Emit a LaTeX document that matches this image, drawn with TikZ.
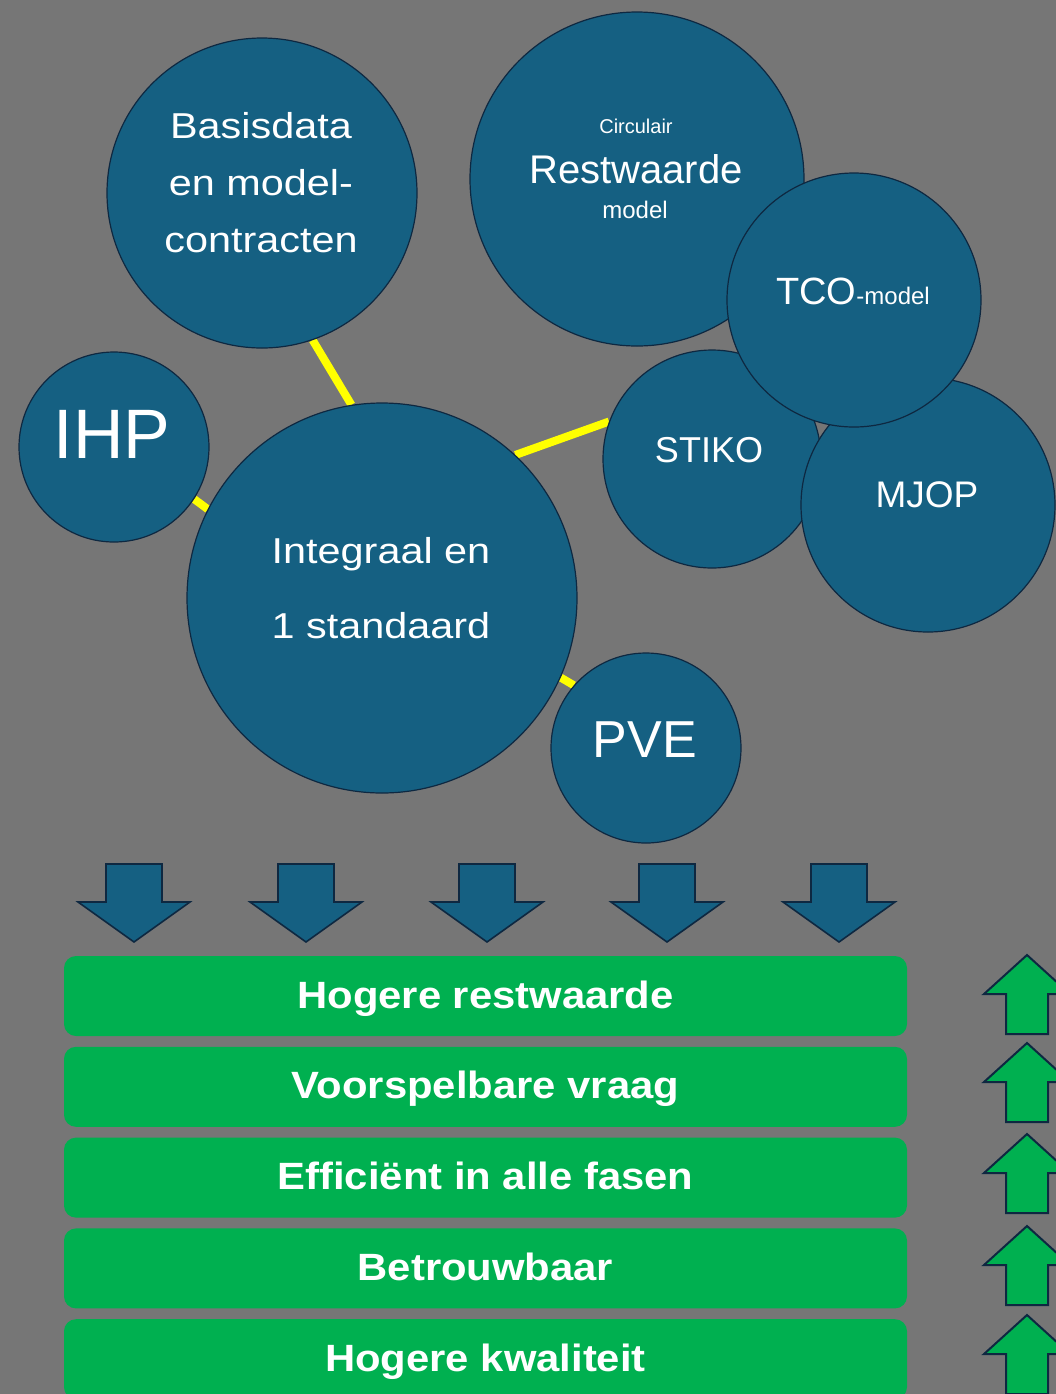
\documentclass[tikz,border=0pt]{standalone}
\usepackage{fontspec}
\setmainfont{Liberation Sans}
\newfontfamily\widefont[FakeStretch=1.15]{Liberation Sans}
\newfontfamily\boxfont[FakeStretch=1.1]{Liberation Sans}
\usetikzlibrary{positioning}

\definecolor{bggray}{HTML}{767676}
\definecolor{bubblefill}{HTML}{156082}
\definecolor{bubbleline}{HTML}{0E2841}
\definecolor{boxgreen}{HTML}{00B050}
\definecolor{linkyellow}{HTML}{FFFF00}

\pgfdeclarelayer{linklayer}
\pgfsetlayers{linklayer,main}

\begin{document}
\begin{tikzpicture}[
  x=0.5pt, y=-0.5pt,
  bubble/.style={
    circle,
    draw=bubbleline,
    line width=0.6pt,
    fill=bubblefill,
    inner sep=0pt},
  bubbletext/.style={
    text=white,
    inner sep=0pt,
    anchor=base},
  link/.style={draw=linkyellow, line width=4pt},
  resultbox/.style={
    fill=boxgreen,
    rounded corners=6pt,
    minimum width=421.5pt,
    minimum height=40pt,
    inner sep=0pt,
    text=white,
    text height=12pt,
    text depth=0pt,
    font=\boxfont\bfseries\fontsize{19}{23}\selectfont},
  downarrow/.style={fill=bubblefill, draw=bubbleline, line width=0.8pt},
  uparrow/.style={fill=boxgreen, draw=bubbleline, line width=1pt}
  ]
    \begin{pgfonlayer}{linklayer}
      \path[use as bounding box, fill=bggray] (0,0) rectangle (1056,1394);
    \end{pgfonlayer}
    \clip (0,0) rectangle (1056,1394);

    % bubbles
    \node[bubble, minimum size=155pt] (basis) at (262,193) {};
    \node[bubble, minimum size=167pt] (rest) at (637,179) {};
    \node[bubble, minimum size=109pt] (stiko) at (712,459) {};
    \node[bubble, minimum size=127pt] (mjop) at (928,505) {};
    \node[bubble, minimum size=127pt] (tco) at (854,300) {};
    \node[bubble, minimum size=95pt] (ihp) at (114,447) {};
    \node[bubble, minimum size=195pt] (integ) at (382,598) {};
    \node[bubble, minimum size=95pt] (pve) at (646,748) {};

    \begin{pgfonlayer}{linklayer}
      \draw[link] (basis.-71) -- (integ.99);
      \draw[link] (ihp.-33) -- (integ.153);
      \draw[link] (integ.47) -- (stiko.160);
      \draw[link] (integ.-24) -- (pve.139);
    \end{pgfonlayer}

    % texts in the bubbles
    \foreach \t/\y [count=\i] in {Basisdata/138, en model-/195, contracten/252}
      \node[bubbletext, font=\widefont\fontsize{18}{22}\selectfont] (basis-\i) at (261,\y) {\t};
    \node[bubbletext, font=\fontsize{10}{12}\selectfont] (rest-1) at (636,133) {Circulair};
    \node[bubbletext, font=\fontsize{20}{24}\selectfont] (rest-2) at (636,183) {Restwaarde};
    \node[bubbletext, font=\fontsize{12}{14}\selectfont] (rest-3) at (635,218) {model};
    \node[bubbletext, font=\fontsize{19}{23}\selectfont] (tco-t) at (853,304) {TCO{\fontsize{12}{14}\selectfont -model}};
    \node[bubbletext, font=\fontsize{18}{22}\selectfont] (stiko-t) at (709,462) {STIKO};
    \node[bubbletext, font=\fontsize{18.5}{22}\selectfont] (mjop-t) at (927,507) {MJOP};
    \node[bubbletext, font=\fontsize{35}{40}\selectfont] (ihp-t) at (112,458) {IHP};
    \foreach \t/\y [count=\i] in {Integraal en/563, 1 standaard/638}
      \node[bubbletext, font=\widefont\fontsize{18}{22}\selectfont] (integ-\i) at (381,\y) {\t};
    \node[bubbletext, font=\fontsize{26}{30}\selectfont] (pve-t) at (645,757) {PVE};

    % arrows down
    \foreach \x in {134,306,487,667,839}
      \filldraw[downarrow] (\x-28,864) -- (\x+28,864) -- (\x+28,902) -- (\x+56,902)
        -- (\x,942) -- (\x-56,902) -- (\x-28,902) -- cycle;

    % results
    \node[resultbox] (res1) at (485.5,996) {Hogere restwaarde};
    \foreach \t [count=\i from 2] in {Voorspelbare vraag, Efficiënt in alle fasen, Betrouwbaar, Hogere kwaliteit}{
      \pgfmathtruncatemacro\prev{\i-1}
      \node[resultbox, below=5pt of res\prev] (res\i) {\t};
    }

    % arrows up
    \foreach \y in {955,1043,1134,1226,1315}
      \filldraw[uparrow] (1027,\y) -- (1070,\y+39) -- (1048,\y+39) -- (1048,\y+79)
        -- (1006,\y+79) -- (1006,\y+39) -- (984,\y+39) -- cycle;
\end{tikzpicture}
\end{document}
